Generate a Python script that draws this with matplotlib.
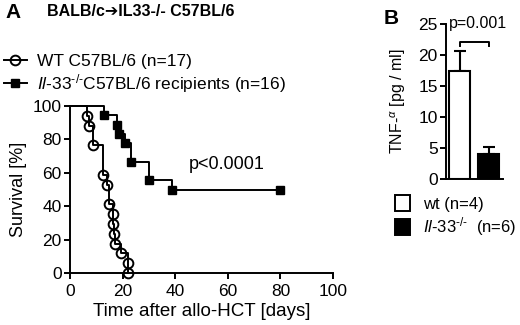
import matplotlib
matplotlib.use('Agg')
import matplotlib.pyplot as plt
from matplotlib.lines import Line2D
from matplotlib.patches import Patch

plt.rcParams['font.family'] = ['Liberation Sans', 'DejaVu Sans']
plt.rcParams['mathtext.fontset'] = 'custom'
plt.rcParams['mathtext.rm'] = 'Liberation Sans'
plt.rcParams['mathtext.it'] = 'Liberation Sans:italic'

# Kaplan-Meier steps (A)
wt_days = [6.6, 7.4, 8.9, 12.4, 14.2, 15.0, 16.4, 16.5, 16.6, 17.0, 19.3, 21.9, 22.2]
wt_surv = [94.1, 88.2, 76.5, 58.8, 52.9, 41.2, 35.3, 29.4, 23.5, 17.6, 11.8, 5.9, 0.0]
ko_days = [13.1, 17.7, 18.6, 21.0, 23.2, 30.2, 38.9, 80.0]
ko_surv = [94.4, 88.9, 83.3, 77.8, 66.7, 55.6, 50.0, 50.0]

# TNF-alpha bars (B)
groups = ['wt', 'Il-33-/-']
tnf_mean = [17.4, 4.0]
tnf_err = [3.2, 1.1]

ko_tex = '$\\it{Il\u201033}^{\u2010/\u2010}$'

fig = plt.figure(figsize=(5.2, 3.25), dpi=100)

# ---- panel A ----
ax = fig.add_axes([70/520, 1-273/325, 263/520, 167/325])
ax.step([0] + wt_days, [100] + wt_surv, where='post', color='black', lw=1.4, clip_on=False)
ax.plot(wt_days, wt_surv, 'o', ms=7, mfc='none', mec='black', mew=1.4, clip_on=False)
ax.step([0] + ko_days, [100] + ko_surv, where='post', color='black', lw=1.4, clip_on=False)
ax.plot(ko_days, ko_surv, 's', ms=6, color='black', clip_on=False)

ax.set_xlim(0, 100)
ax.set_ylim(0, 100)
ax.set_xticks([0, 20, 40, 60, 80, 100])
ax.set_yticks([0, 20, 40, 60, 80, 100])
for s in ['top', 'right']:
    ax.spines[s].set_visible(False)
for s in ['left', 'bottom']:
    ax.spines[s].set_linewidth(1.4)
ax.tick_params(width=1.4, length=4, labelsize=12.5, pad=2)
ax.tick_params(axis='x', pad=4)
ax.set_ylabel('Survival [%]', fontsize=13, labelpad=4)
ax.set_xlabel('Time after allo-HCT [days]', fontsize=13.5, labelpad=3)
ax.text(45, 64.7, 'p<0.0001', fontsize=13, va='center')

fig.text(5/520, 1-12/325, 'A', fontsize=15, fontweight='bold', va='center')
fig.text(47/520, 1-11/325, 'BALB/c\u2794IL33-/- C57BL/6', fontsize=11.5,
         fontweight='bold', va='center')

h1 = Line2D([], [], color='black', lw=1.4, marker='o', ms=7, mfc='none', mew=1.4)
h2 = Line2D([], [], color='black', lw=1.4, marker='s', ms=6)
fig.legend([h1, h2], ['WT C57BL/6 (n=17)', ko_tex + 'C57BL/6 recipients (n=16)'],
           loc='upper left', bbox_to_anchor=(4/520, 1-54/325), frameon=False,
           fontsize=12.5, handlelength=1.3, handletextpad=0.6, labelspacing=0.15,
           borderaxespad=0, borderpad=0)

# ---- panel B ----
bx = fig.add_axes([446/520, 1-179/325, 57/520, (179-23.5)/325])
xs = range(len(groups))
bx.bar(xs, tnf_mean, width=0.72, color=['white', 'black'], edgecolor='black',
       linewidth=1.5, zorder=2)
bx.errorbar(xs, tnf_mean, yerr=[[0, 0], tnf_err], fmt='none', ecolor='black',
            elinewidth=1.5, capsize=4, capthick=1.5, zorder=1)
bx.set_xlim(-0.47, 1.5)
bx.set_ylim(0, 25)
bx.set_yticks([0, 5, 10, 15, 20, 25])
bx.set_xticks([])
for s in ['top', 'right']:
    bx.spines[s].set_visible(False)
for s in ['left', 'bottom']:
    bx.spines[s].set_linewidth(1.4)
bx.tick_params(width=1.4, length=4, labelsize=12.5, pad=2)
bx.set_ylabel(r'TNF-$^{\alpha}$ [pg / ml]', fontsize=11.5, labelpad=7)
bx.plot([0, 0, 1, 1], [21.4, 22.0, 22.0, 21.4], color='black', lw=1.4, clip_on=False)
bx.text(-0.38, 25, 'p=0.001', fontsize=11.5, va='center', ha='left')

fig.text(384/520, 1-18/325, 'B', fontsize=15, fontweight='bold', va='center')
fig.legend([Patch(facecolor='white', edgecolor='black', lw=1.4),
            Patch(facecolor='black', edgecolor='black', lw=1.4)],
           ['wt (n=4)', ko_tex + '  (n=6)'],
           loc='upper left', bbox_to_anchor=(395/520, 1-195/325), frameon=False,
           fontsize=12, handlelength=0.9, handleheight=1.1, handletextpad=0.8,
           labelspacing=0.2, borderaxespad=0, borderpad=0)

fig.savefig('out.png', dpi=100)
